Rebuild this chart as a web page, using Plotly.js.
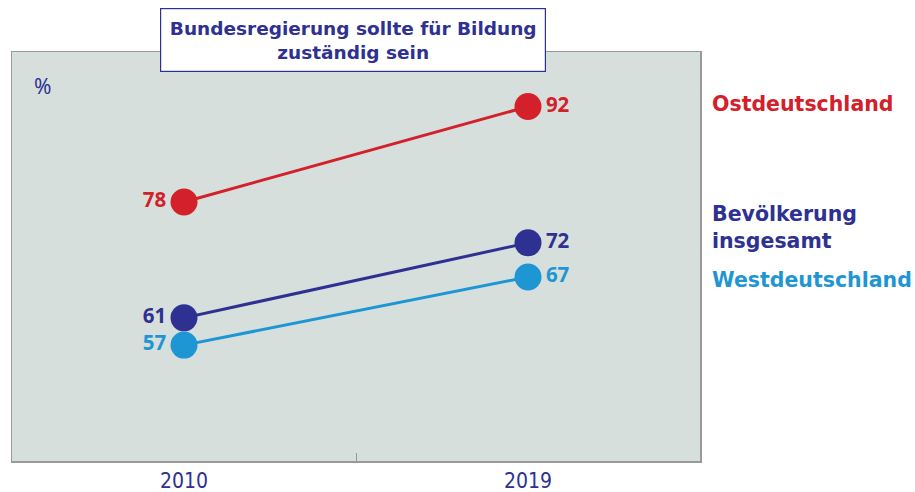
<!DOCTYPE html>
<html><head><meta charset="utf-8">
<script src="https://cdn.plot.ly/plotly-3.0.1.min.js"></script>
<style>body{margin:0;padding:0;background:#fff}#chart{width:915px;height:492px}</style>
</head><body><div id="chart"></div>
<script>
const years = ['2010', '2019'];
const ost = [78, 92];
const gesamt = [61, 72];
const west = [57, 67];
const seriesNames = ['Ostdeutschland', 'Bevölkerung<br>insgesamt', 'Westdeutschland'];
const colors = ['#d3202a', '#2e3192', '#1e96d4'];
const titleText = '<b>Bundesregierung sollte für Bildung<br>zuständig sein</b>';

const FONT = 'Noto Sans, Liberation Sans, sans-serif';
const WIDE = 'DejaVu Sans, Noto Sans, sans-serif';
const series = [ost, gesamt, west];
const traces = series.map((vals, i) => ({
  x: years, y: vals, type: 'scatter', mode: 'lines+markers+text',
  line: {color: colors[i], width: 3},
  marker: {color: colors[i], size: 27},
  text: vals.map(v => '<b>' + v + '</b>'),
  textposition: ['middle left', 'middle right'],
  textfont: {family: FONT, size: 20.5, color: colors[i]},
  cliponaxis: false, hoverinfo: 'none', showlegend: false
}));

const labelY = [92.4, 74.2, 66.6];
const annotations = series.map((vals, i) => ({
  xref: 'paper', yref: 'y', x: 1.015, y: labelY[i], xanchor: 'left', yanchor: 'middle',
  text: '<b>' + seriesNames[i] + '</b>', showarrow: false, align: 'left',
  font: {family: WIDE, size: 20.5, color: colors[i]}
}));
annotations.push({
  xref: 'paper', yref: 'paper', x: 0.495, y: 1.029, xanchor: 'center', yanchor: 'middle',
  text: titleText, showarrow: false, align: 'center',
  bgcolor: '#ffffff', bordercolor: '#2e3192', borderwidth: 1.2,
  width: 382, height: 60,
  font: {family: WIDE, size: 18.5, color: '#2e3192'}
});
annotations.push({
  xref: 'paper', yref: 'paper', x: 0.045, y: 0.918, xanchor: 'center', yanchor: 'middle',
  text: '%', showarrow: false, font: {family: FONT, size: 21, color: '#2e3192'}
});

const layout = {
  width: 915, height: 492,
  margin: {l: 12, r: 215, t: 52, b: 31},
  paper_bgcolor: '#ffffff', plot_bgcolor: '#d6dfdb',
  xaxis: {type: 'category', range: [-0.5, 1.5], tickson: 'boundaries', ticks: 'inside', ticklen: 8,
    tickcolor: '#999', showline: true, linecolor: '#999', linewidth: 1.5, mirror: true,
    showgrid: false, zeroline: false, fixedrange: true,
    tickfont: {family: 'Liberation Sans Narrow, DejaVu Sans Condensed, sans-serif', size: 21, color: '#2e3192'}},
  yaxis: {range: [40, 100], showticklabels: false, ticks: '', showgrid: false, zeroline: false,
    showline: true, linecolor: '#999', linewidth: 1.5, mirror: true, fixedrange: true},
  annotations: annotations,
  showlegend: false
};
Plotly.newPlot('chart', traces, layout, {displayModeBar: false, staticPlot: true});
</script></body></html>
